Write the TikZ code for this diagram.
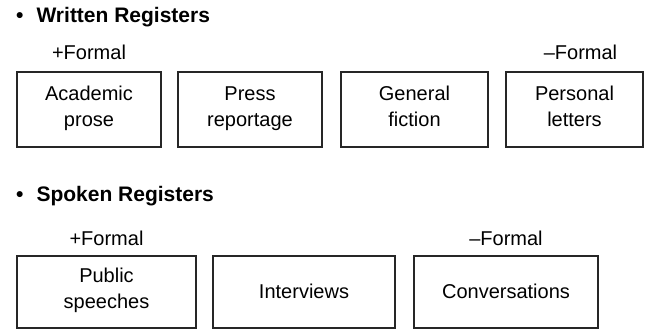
\documentclass[tikz,border=0pt]{standalone}
\usepackage{fontspec}
\setmainfont{Liberation Sans}
\usetikzlibrary{positioning}

\begin{document}
\begin{tikzpicture}[x=1pt, y=-1pt,
node distance = 18pt,
   REG/.style = {draw=black!85, line width=1.1pt, align=center,
                 inner sep=0pt, outer sep=0pt,
                 font=\fontsize{20}{26}\selectfont,
                 execute at begin node=\rule{0pt}{19.5pt},
                 execute at end node=\rule[-6.5pt]{0pt}{6.5pt}},
   WR/.style  = {REG, minimum height=75pt},%written row
   SR/.style  = {REG, minimum height=72pt},%spoken row
   TTL/.style = {anchor=base west, inner sep=0pt,
                 font=\fontsize{21}{24}\selectfont\bfseries},
   FML/.style = {inner sep=0pt, font=\fontsize{20}{24}\selectfont}
                        ]
\useasboundingbox (0,0) rectangle (645,331);
% written registers
\node (wtitle) [TTL] at (16,23) {\textbullet\hspace{13pt}Written Registers};
\node (acad)  [WR, minimum width=144pt, anchor=north west,
               label={[FML, label distance=12pt]above:+Formal}] at (17,72)
              {Academic\\prose};
\node (press) [WR, minimum width=144pt, right=17pt of acad] {Press\\reportage};
\node (fict)  [WR, minimum width=147pt, right=19pt of press] {General\\fiction};
\node (lett)  [WR, minimum width=137pt, right=18pt of fict,
               label={[FML, label distance=12pt, xshift=6pt]above:--Formal}]
              {Personal\\letters};
% spoken registers
\node (stitle) [TTL] at (16,201) {\textbullet\hspace{13pt}Spoken Registers};
\node (pub)   [SR, minimum width=179pt, anchor=north west,
               label={[FML, label distance=10pt]above:+Formal}] at (17,256)
              {Public\\speeches};
\node (intv)  [SR, minimum width=182pt, right=17pt of pub] {Interviews};
\node (conv)  [SR, minimum width=184pt, right=19pt of intv,
               label={[FML, label distance=10pt]above:--Formal}]
              {Conversations};
\end{tikzpicture}
\end{document}
